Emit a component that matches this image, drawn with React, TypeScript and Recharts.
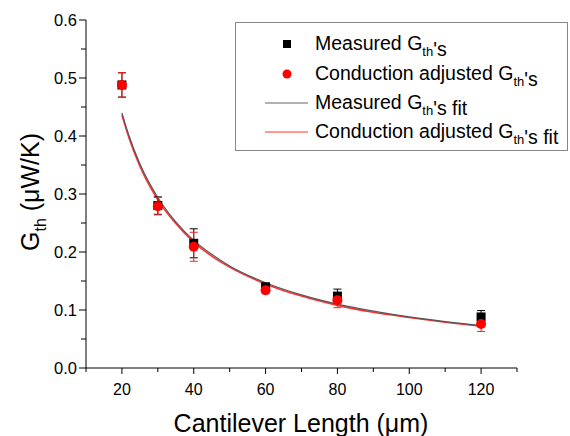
import { ComposedChart, Scatter, Line, XAxis, YAxis, ErrorBar, Legend } from 'recharts';

// cantilever lengths (um) and thermal conductance values (uW/K)
const lengths = [20, 30, 40, 60, 80, 120];
const measuredG = [0.488, 0.28, 0.215, 0.14, 0.124, 0.088];
const measuredErr = [0.021, 0.015, 0.025, 0.006, 0.012, 0.011];
const adjustedG = [0.488, 0.279, 0.209, 0.134, 0.117, 0.076];
const adjustedErr = [0.021, 0.015, 0.025, 0.006, 0.013, 0.013];

// fit curves
const fitX = [20, 22, 25, 30, 35, 40, 45, 50, 60, 70, 80, 90, 100, 110, 120];
const measuredFitY = [0.44, 0.4, 0.352, 0.294, 0.252, 0.22, 0.196, 0.176, 0.147, 0.126, 0.11, 0.098, 0.088, 0.08, 0.073];
const adjustedFitY = [0.436, 0.396, 0.348, 0.29, 0.249, 0.217, 0.193, 0.174, 0.145, 0.124, 0.108, 0.096, 0.087, 0.079, 0.072];

const xTicks = [10, 20, 30, 40, 50, 60, 70, 80, 90, 100, 110, 120, 130];
const yTicks = [0, 0.05, 0.1, 0.15, 0.2, 0.25, 0.3, 0.35, 0.4, 0.45, 0.5, 0.55, 0.6];

const FONT = '"Liberation Sans", Arial, sans-serif';

const measuredData = lengths.map((x, i) => ({ x, y: measuredG[i], err: measuredErr[i] }));
const adjustedData = lengths.map((x, i) => ({ x, y: adjustedG[i], err: adjustedErr[i] }));
const measuredFit = fitX.map((x, i) => ({ x, y: measuredFitY[i] }));
const adjustedFit = fitX.map((x, i) => ({ x, y: adjustedFitY[i] }));

const XTick = (props: any) => {
  const { x, y, payload } = props;
  const major = payload.value % 20 === 0;
  return (
    <g>
      <line x1={x} x2={x} y1={y} y2={y + (major ? 6 : 4)} stroke="#000" />
      {major && (
        <text x={x} y={y + 27} textAnchor="middle" fontSize={16} fontFamily={FONT} fill="#000">
          {payload.value}
        </text>
      )}
    </g>
  );
};

const YTick = (props: any) => {
  const { x, y, payload } = props;
  const v = payload.value;
  const major = Math.abs(v * 10 - Math.round(v * 10)) < 1e-6;
  return (
    <g>
      <line x1={x - (major ? 7 : 5)} x2={x} y1={y} y2={y} stroke="#000" />
      {major && (
        <text x={x - 9} y={y + 6} textAnchor="end" fontSize={16.5} fontFamily={FONT} fill="#000">
          {v.toFixed(1)}
        </text>
      )}
    </g>
  );
};

const Square = (props: any) => {
  const { cx, cy } = props;
  return <rect x={cx - 4.5} y={cy - 4.5} width={9} height={9} fill="#000" />;
};

const Dot = (props: any) => {
  const { cx, cy } = props;
  return <circle cx={cx} cy={cy} r={5} fill="#ff0000" />;
};

const Sub = ({ children }: { children: string }) => (
  <>
    <tspan dy={6} fontSize={13}>{children}</tspan>
    <tspan dy={-6}></tspan>
  </>
);

const renderLegend = () => (
  <svg width={333} height={130} style={{ display: 'block' }}>
    <rect x={0.5} y={0.5} width={332} height={128} fill="#fff" stroke="#888" />
    <rect x={48} y={18} width={8} height={8} fill="#000" />
    <circle cx={52} cy={52} r={4.5} fill="#ff0000" />
    <line x1={30} x2={73} y1={81} y2={81} stroke="#666" strokeWidth={1.2} />
    <line x1={30} x2={73} y1={110} y2={110} stroke="#ff3030" strokeWidth={1} />
    <g fontFamily={FONT} fontSize={19.5} fill="#000">
      <text x={80} y={28}>Measured G<Sub>th</Sub>'s</text>
      <text x={80} y={58}>Conduction adjusted G<Sub>th</Sub>'s</text>
      <text x={80} y={87}>Measured G<Sub>th</Sub>'s fit</text>
      <text x={80} y={116}>Conduction adjusted G<Sub>th</Sub>'s fit</text>
    </g>
  </svg>
);

const YLabel = () => (
  <text transform="translate(39,192) rotate(-90)" textAnchor="middle" fontSize={25} fontFamily={FONT} fill="#000">
    G<tspan dy={7} fontSize={16}>th</tspan><tspan dy={-7}> (μW/K)</tspan>
  </text>
);

const XLabel = () => (
  <text x={301} y={432} textAnchor="middle" fontSize={25} fontFamily={FONT} fill="#000">
    Cantilever Length (μm)
  </text>
);

export default function App() {
  return (
    <div style={{ position: 'absolute', left: 0, top: 0, background: '#fff' }}>
      <ComposedChart width={570} height={436} margin={{ top: 20, right: 53, bottom: 0, left: 0 }}>
        <XAxis
          type="number"
          dataKey="x"
          domain={[10, 130]}
          ticks={xTicks}
          interval={0}
          tick={<XTick />}
          tickSize={0}
          tickMargin={0}
          height={68}
          stroke="#000"
          allowDataOverflow
          label={{ content: <XLabel /> }}
        />
        <YAxis
          type="number"
          dataKey="y"
          domain={[0, 0.6]}
          ticks={yTicks}
          interval={0}
          tick={<YTick />}
          tickSize={0}
          tickMargin={0}
          width={86}
          stroke="#000"
          allowDataOverflow
          label={{ content: <YLabel /> }}
        />
        <Line data={adjustedFit} dataKey="y" type="monotone" stroke="#ff3030" strokeWidth={1.6} dot={false} isAnimationActive={false} />
        <Line data={measuredFit} dataKey="y" type="monotone" stroke="#555" strokeWidth={1.2} dot={false} isAnimationActive={false} />
        <Scatter data={measuredData} dataKey="y" shape={<Square />} isAnimationActive={false}>
          <ErrorBar dataKey="err" direction="y" width={4} stroke="#000" strokeWidth={1} />
        </Scatter>
        <Scatter data={adjustedData} dataKey="y" shape={<Dot />} isAnimationActive={false}>
          <ErrorBar dataKey="err" direction="y" width={4} stroke="#ff2020" strokeWidth={1} />
        </Scatter>
        <Legend
          layout="vertical"
          verticalAlign="middle"
          align="center"
          content={renderLegend}
          wrapperStyle={{ left: 235, top: 22, right: 'auto', bottom: 'auto', width: 333, height: 130 }}
        />
      </ComposedChart>
    </div>
  );
}
